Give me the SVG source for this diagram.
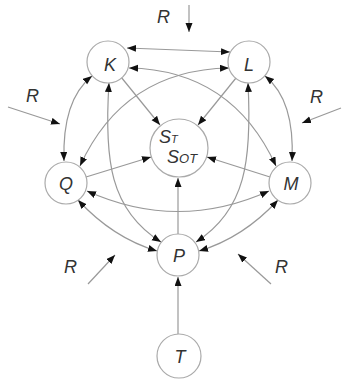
<svg xmlns="http://www.w3.org/2000/svg" width="342" height="382" viewBox="0 0 342 382">
<style>
.node{fill:#fff;stroke:#aaa;stroke-width:1.2}
.lbl{font-family:"Liberation Sans",Arial,sans-serif;font-style:italic;font-size:18px;fill:#333;text-anchor:middle}
.r{font-family:"Liberation Sans",Arial,sans-serif;font-style:italic;font-size:18px;fill:#333}
.e{fill:none;stroke:#999;stroke-width:1.2;marker-end:url(#ah)}
.d{marker-start:url(#ah)}
</style>
<defs>
<marker id="ah" markerUnits="userSpaceOnUse" markerWidth="10" markerHeight="8" refX="9" refY="3.5" orient="auto-start-reverse">
<path d="M0,0 L9,3.5 L0,7 z" fill="#111"/>
</marker>
</defs>
<g id="connectors">
<path class="e d" d="M127,48 L230,52"/>
<path class="e d" d="M129,68 Q232,70 276,166"/>
<path class="e d" d="M229,68 Q124,70 80,166"/>
<path class="e d" d="M92,76 Q62,100 64,161"/>
<path class="e d" d="M265,76 Q295,100 292,161"/>
<path class="e d" d="M109,83 C104,160 110,210 161,242"/>
<path class="e d" d="M248,83 C252,160 246,210 196,242"/>
<path class="e d" d="M87,191 Q178,232 269,191"/>
<path class="e d" d="M78,200 Q113,238 157,251"/>
<path class="e d" d="M278,200 Q243,238 199,251"/>
<path class="e" d="M121,77 L160,125"/>
<path class="e" d="M236,78 L198,125"/>
<path class="e" d="M86,177 L151,157"/>
<path class="e" d="M270,177 L207,157"/>
<path class="e" d="M178,234 L178,178"/>
<path class="e" d="M178,334 L178,277"/>
<path class="e" d="M189,5 L189,32"/>
<path class="e" d="M8,107 L60,124"/>
<path class="e" d="M341,108 L302,123"/>
<path class="e" d="M88,284 L115,255"/>
<path class="e" d="M271,284 L238,254"/>
</g>
<g id="R-labels">
<text class="r" x="157" y="23">R</text>
<text class="r" x="26" y="102">R</text>
<text class="r" x="310" y="103">R</text>
<text class="r" x="64" y="273">R</text>
<text class="r" x="275" y="273">R</text>
</g>
<g id="S"><circle class="node" cx="179" cy="148" r="29"/>
<text class="r" x="159" y="143">S<tspan font-size="11" dy="0">T</tspan></text>
<text class="r" x="167" y="163">S<tspan font-size="13">OT</tspan></text>
</g>
<g id="K"><circle class="node" cx="108" cy="62" r="21"/><text class="lbl" x="110" y="71">K</text></g>
<g id="L"><circle class="node" cx="249" cy="62" r="21"/><text class="lbl" x="249" y="71">L</text></g>
<g id="Q"><circle class="node" cx="66" cy="183" r="21"/><text class="lbl" x="66" y="190">Q</text></g>
<g id="M"><circle class="node" cx="290" cy="183" r="21"/><text class="lbl" x="291" y="190">M</text></g>
<g id="P"><circle class="node" cx="178" cy="255" r="21"/><text class="lbl" x="179" y="262">P</text></g>
<g id="T"><circle class="node" cx="179" cy="356" r="22"/><text class="lbl" x="180" y="363">T</text></g>
</svg>
